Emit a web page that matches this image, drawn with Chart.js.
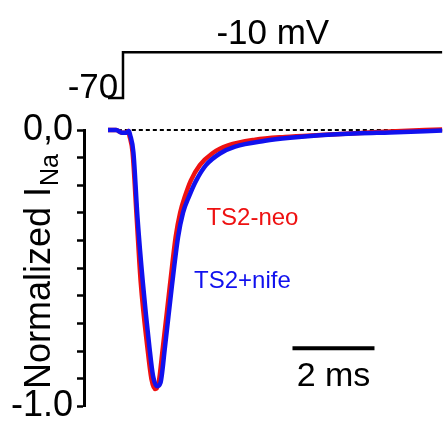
<!DOCTYPE html>
<html>
<head>
<meta charset="utf-8">
<script src="https://cdn.jsdelivr.net/npm/chart.js@4"></script>
<style>
html,body{margin:0;padding:0;background:#fff;}
#wrap{width:445px;height:432px;}
</style>
</head>
<body>
<div id="wrap"><canvas id="c" width="445" height="432"></canvas></div>
<script>
// ---- data (time in ms, current normalized) ----
const neoTime = [0, 0.2, 0.34, 0.44, 0.5, 0.52, 0.60, 0.70, 0.80, 0.96, 1.06, 1.15, 1.23, 1.34, 1.51, 1.65, 1.76, 1.88, 2.02, 2.24, 2.54, 2.93, 3.59, 4.32, 5.17, 6.15, 6.88, 8.15];
const neoCurrent = [0, 0, -0.01, -0.01, -0.004, -0.018, -0.081, -0.317, -0.553, -0.785, -0.901, -0.937, -0.919, -0.785, -0.563, -0.387, -0.299, -0.239, -0.183, -0.127, -0.085, -0.056, -0.035, -0.025, -0.018, -0.011, -0.005, 0.002];
const nifeTime = [0, 0.2, 0.34, 0.44, 0.51, 0.54, 0.62, 0.72, 0.85, 1.01, 1.10, 1.20, 1.28, 1.39, 1.56, 1.71, 1.83, 1.98, 2.15, 2.39, 2.73, 3.10, 3.83, 4.44, 5.17, 6.15, 6.88, 8.15];
const nifeCurrent = [0, 0, -0.01, -0.01, -0.004, -0.018, -0.081, -0.317, -0.552, -0.785, -0.891, -0.927, -0.915, -0.785, -0.563, -0.387, -0.299, -0.239, -0.183, -0.127, -0.085, -0.060, -0.039, -0.028, -0.019, -0.012, -0.009, -0.002];
// voltage protocol (ms, mV)
const protoTime = [0, 0.366, 0.366, 8.15];
const protoMv = [-70, -70, -10, -10];
// zero reference and scale bar
const zeroTime = [0.24, 8.15];
const zeroCurrent = [0, 0];
const barTime = [4.5, 6.5];
const barCurrent = [-0.79, -0.79];
const yTickLabels = {"0": "0,0", "-1": "-1.0"};
const seriesNames = ["TS2-neo", "TS2+nife"];

const pts = (xs, ys) => xs.map((x, i) => ({x: x, y: ys[i]}));
const FONT = "'Liberation Sans', Arial, Helvetica, sans-serif";

const textPlugin = {
  id: 'texts',
  afterDraw(chart) {
    const ctx = chart.ctx, xs = chart.scales.x, ys = chart.scales.y, yv = chart.scales.yV;
    ctx.save();
    ctx.fillStyle = '#000';
    ctx.textBaseline = 'alphabetic';
    // protocol labels
    ctx.font = '35px ' + FONT;
    ctx.textAlign = 'center';
    ctx.fillText('-10 mV', xs.getPixelForValue(4.02), yv.getPixelForValue(-10) - 8);
    ctx.font = '35px ' + FONT;
    ctx.textAlign = 'right';
    ctx.fillText('-70', xs.getPixelForValue(0.25), yv.getPixelForValue(-70));
    // scale bar label
    ctx.font = '34px ' + FONT;
    ctx.textAlign = 'center';
    ctx.fillText('2 ms', xs.getPixelForValue(5.5), ys.getPixelForValue(-0.79) + 38);
    // series labels
    ctx.font = '24px ' + FONT;
    ctx.textAlign = 'left';
    ctx.fillStyle = '#ee1111';
    ctx.fillText(seriesNames[0], xs.getPixelForValue(2.4), ys.getPixelForValue(-0.345));
    ctx.fillStyle = '#1111ee';
    ctx.fillText(seriesNames[1], xs.getPixelForValue(2.1), ys.getPixelForValue(-0.57));
    // y title
    ctx.fillStyle = '#000';
    ctx.translate(50, 389);
    ctx.rotate(-Math.PI / 2);
    ctx.font = '36px ' + FONT;
    ctx.textAlign = 'left';
    const main = 'Normalized I';
    ctx.fillText(main, 0, 0);
    const w = ctx.measureText(main).width;
    ctx.font = '25px ' + FONT;
    ctx.fillText('Na', w + 1, 8);
    ctx.restore();
  }
};

new Chart(document.getElementById('c'), {
  type: 'scatter',
  data: {
    datasets: [
      {data: pts(nifeTime, nifeCurrent), xAxisID: 'x', yAxisID: 'y', showLine: true, borderColor: '#1111ee', borderWidth: 4.5, pointRadius: 0, cubicInterpolationMode: 'monotone', clip: false, order: 0},
      {data: pts(neoTime, neoCurrent), xAxisID: 'x', yAxisID: 'y', showLine: true, borderColor: '#ee1111', borderWidth: 4.5, pointRadius: 0, cubicInterpolationMode: 'monotone', clip: false, order: 1},
      {data: pts(zeroTime, zeroCurrent), xAxisID: 'x', yAxisID: 'y', showLine: true, borderColor: '#000', borderWidth: 2, borderDash: [4, 3], pointRadius: 0, clip: false, order: 2},
      {data: pts(barTime, barCurrent), xAxisID: 'x', yAxisID: 'y', showLine: true, borderColor: '#000', borderWidth: 4, pointRadius: 0, clip: false, order: 2},
      {data: pts(protoTime, protoMv), xAxisID: 'x', yAxisID: 'yV', showLine: true, borderColor: '#000', borderWidth: 2.5, pointRadius: 0, clip: false, order: 2}
    ]
  },
  options: {
    responsive: false,
    animation: false,
    layout: {padding: {top: 130, bottom: 18, left: 0, right: 0}},
    plugins: {legend: {display: false}, tooltip: {enabled: false}},
    scales: {
      x: {type: 'linear', display: false, min: -0.585, max: 8.22},
      y: {
        type: 'linear', position: 'left', min: -1, max: 0,
        afterFit(s) { s.width = 84; },
        border: {display: true, color: '#000', width: 3},
        grid: {drawOnChartArea: false, drawTicks: true, tickLength: 7, tickWidth: 2.5, tickColor: '#000'},
        ticks: {
          stepSize: 0.1, autoSkip: false, color: '#000', padding: 4,
          font: {family: FONT, size: 36},
          callback: (v) => { const k = String(Math.round(v * 10) / 10); return yTickLabels[k] !== undefined ? yTickLabels[k] : ''; }
        }
      },
      yV: {type: 'linear', display: false, min: -474.7, max: -112.1}
    }
  },
  plugins: [textPlugin]
});
</script>
</body>
</html>
